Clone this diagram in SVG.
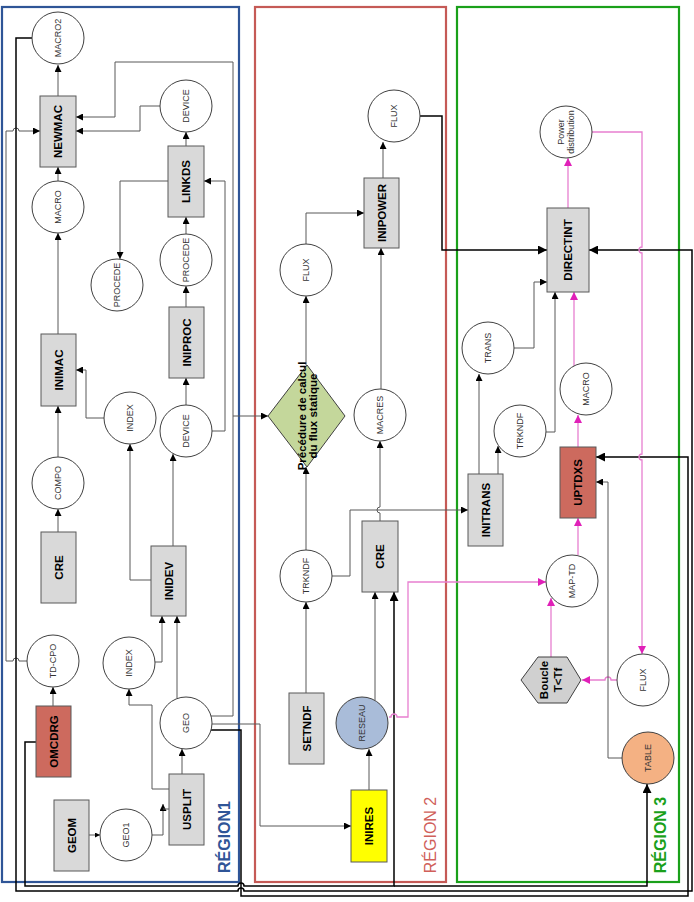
<svg xmlns="http://www.w3.org/2000/svg" width="694" height="902" viewBox="0 0 694 902">
<defs>
<marker id="a" viewBox="0 0 10 10" refX="10" refY="5" markerWidth="8" markerHeight="7" markerUnits="userSpaceOnUse" orient="auto"><path d="M0,0 L10,5 L0,10 z" fill="#000"/></marker>
<marker id="ab" viewBox="0 0 10 10" refX="10" refY="5" markerWidth="11" markerHeight="9" markerUnits="userSpaceOnUse" orient="auto"><path d="M0,0 L10,5 L0,10 z" fill="#000"/></marker>
<marker id="ap" viewBox="0 0 10 10" refX="10" refY="5" markerWidth="9" markerHeight="8" markerUnits="userSpaceOnUse" orient="auto"><path d="M0,0 L10,5 L0,10 z" fill="#e020b8"/></marker>
<marker id="as" viewBox="0 0 10 10" refX="10" refY="5" markerWidth="6" markerHeight="5" markerUnits="userSpaceOnUse" orient="auto"><path d="M0,0 L10,5 L0,10 z" fill="#000"/></marker>
</defs>
<style>
.reg{fill:none;stroke-width:2.2}
.box{fill:#d9d9d9;stroke:#595959;stroke-width:1}
.red{fill:#cd6a5e;stroke:#595959;stroke-width:1}
.cir{fill:#fff;stroke:#404040;stroke-width:1}
.bt{font-family:"Liberation Sans",Arial,sans-serif;font-weight:bold;font-size:11.5px;fill:#000;text-anchor:middle;dominant-baseline:central}
.ct{font-family:"Liberation Sans",Arial,sans-serif;font-size:9px;fill:#333;text-anchor:middle;dominant-baseline:central}
.rl{font-family:"Liberation Sans",Arial,sans-serif;font-size:16px;text-anchor:middle;dominant-baseline:central}
.c{fill:none;stroke:#595959;stroke-width:1;marker-end:url(#a)}
.cn{fill:none;stroke:#595959;stroke-width:1}
.k{fill:none;stroke:#000;stroke-width:1.5;marker-end:url(#ab)}
.kn{fill:none;stroke:#000;stroke-width:1.5}
.p{fill:none;stroke:#e77fd0;stroke-width:1.3;marker-end:url(#ap)}
</style>
<rect width="694" height="902" fill="#fff"/>
<g id="regions">
<rect class="reg" x="2" y="7" width="237" height="875" stroke="#2f5597"/>
<rect class="reg" x="255" y="7" width="191" height="875" stroke="#c55a56"/>
<rect class="reg" x="457" y="7" width="222" height="875" stroke="#1aa01a" stroke-width="2.6"/>
<text class="rl" transform="translate(224,837) rotate(-90)" fill="#2f5597" font-weight="bold">RÉGION1</text>
<text class="rl" transform="translate(430,835) rotate(-90)" fill="#d0605a">RÉGION 2</text>
<text class="rl" transform="translate(660,835) rotate(-90)" fill="#1aa01a" font-weight="bold">RÉGION 3</text>
</g>
<g id="connectors">
<path class="c" d="M58,181 V167"/>
<path class="c" d="M58,96 V65"/>
<path class="c" d="M58,334 V233"/>
<path class="c" d="M58,457 V406"/>
<path class="c" d="M58,532 V509"/>
<path class="c" d="M53,706 V687"/>
<path class="c" d="M27,661 H19 A3,3 0 0 0 13,661 H6 V131 H13 A3,3 0 0 1 19,131 H40"/>
<path class="kn" d="M32,38 H16 V891 H238 A3,3 0 0 1 244,891 H692 V250 H600"/>
<path class="k" d="M600,250 H589"/>
<path class="kn" d="M36,742 H25 V886 H238 A3,3 0 0 1 244,886 H394 V600"/>
<path class="k" d="M394,600 V592"/>
<path class="kn" d="M394,886 H647 V790"/>
<path class="k" d="M647,792 V784"/>
<path class="kn" d="M211,730 H241 V896 H688 V457 H605"/>
<path class="k" d="M605,457 H596"/>
<path class="c" d="M160,106 H140 V131 H76"/>
<path class="c" d="M211,716 H233 V62 H115 V117 H76"/>
<path class="c" d="M233,416 H268"/>
<path class="c" d="M212,431 H225 V181 H204"/>
<path class="c" d="M168,181 H120 V259"/>
<path class="c" d="M186,146 V132"/>
<path class="c" d="M186,234 V217"/>
<path class="c" d="M186,307 V286"/>
<path class="c" d="M186,405 V378"/>
<path class="c" d="M173,546 V454"/>
<path class="c" d="M151,580 H130 V444"/>
<path class="c" d="M104,418 H86 V370 H76"/>
<path class="c" d="M177,698 V616"/>
<path class="c" d="M155,662 H162 V616"/>
<path class="c" d="M169,789 H152 V705 H129 V689"/>
<path class="c" d="M182,774 V749"/>
<path class="c" d="M152,835 H163 V804"/>
<path class="cn" d="M163,809 H169"/>
<path class="cn" d="M89,835 H100" marker-end="url(#as)"/>
<path class="c" d="M212,724 H260 V826 H351"/>
<path class="c" d="M369,790 V749"/>
<path class="c" d="M375,700 V592"/>
<path class="c" d="M306,693 V602"/>
<path class="c" d="M306,550 V467"/>
<path class="c" d="M306,365 V296"/>
<path class="c" d="M306,244 V213 H364"/>
<path class="c" d="M380,521 V513 A3,3 0 0 1 380,507 V441"/>
<path class="c" d="M381,389 V248"/>
<path class="c" d="M383,178 V142"/>
<path class="k" d="M420,116 H442 V250 H547"/>
<path class="c" d="M332,576 H350 V510 H468"/>
<path class="p" d="M389,717 H391 A3,3 0 0 1 397,717 H408 V582 H546"/>
<path class="c" d="M479,474 V374"/>
<path class="c" d="M498,474 V446"/>
<path class="c" d="M514,348 H534 V282 H547"/>
<path class="c" d="M546,432 H555 V292"/>
<path class="p" d="M574,366 V292"/>
<path class="p" d="M578,447 V415"/>
<path class="p" d="M568,208 V158"/>
<path class="p" d="M592,132 H642 V247 A3,3 0 0 0 642,253 V454 A3,3 0 0 0 642,460 V654"/>
<path class="p" d="M578,555 V518"/>
<path class="p" d="M551,657 V598"/>
<path class="p" d="M617,680 H611 A3,3 0 0 0 605,680 H582"/>
<path class="c" d="M622,758 H608 V482 H596"/>
</g>
<g id="MACRO2"><circle class="cir" cx="58" cy="38" r="26"/><text class="ct" font-size="7.5" transform="translate(58,38) rotate(-90)">MACRO2</text></g>
<g id="NEWMAC"><rect class="box" x="40" y="96" width="36" height="71"/><text class="bt" transform="translate(58,131.5) rotate(-90)">NEWMAC</text></g>
<g id="DEVICE1"><circle class="cir" cx="186" cy="106" r="26"/><text class="ct" transform="translate(186,106) rotate(-90)">DEVICE</text></g>
<g id="LINKDS"><rect class="box" x="168" y="146" width="36" height="71"/><text class="bt" transform="translate(186,181.5) rotate(-90)">LINKDS</text></g>
<g id="MACRO"><circle class="cir" cx="58" cy="207" r="26"/><text class="ct" transform="translate(58,207) rotate(-90)">MACRO</text></g>
<g id="PROCEDE1"><circle class="cir" cx="117" cy="285" r="26"/><text class="ct" transform="translate(117,285) rotate(-90)">PROCEDE</text></g>
<g id="PROCEDE2"><circle class="cir" cx="186" cy="260" r="26"/><text class="ct" transform="translate(186,260) rotate(-90)">PROCEDE</text></g>
<g id="INIPROC"><rect class="box" x="169" y="307" width="35" height="71"/><text class="bt" transform="translate(186.5,342.5) rotate(-90)">INIPROC</text></g>
<g id="INIMAC"><rect class="box" x="41" y="334" width="35" height="72"/><text class="bt" transform="translate(58.5,370) rotate(-90)">INIMAC</text></g>
<g id="INDEX1"><circle class="cir" cx="130" cy="418" r="26"/><text class="ct" transform="translate(130,418) rotate(-90)">INDEX</text></g>
<g id="DEVICE2"><circle class="cir" cx="186" cy="431" r="26"/><text class="ct" transform="translate(186,431) rotate(-90)">DEVICE</text></g>
<g id="COMPO"><circle class="cir" cx="58" cy="483" r="26"/><text class="ct" transform="translate(58,483) rotate(-90)">COMPO</text></g>
<g id="CRE1"><rect class="box" x="41" y="532" width="35" height="71"/><text class="bt" transform="translate(58.5,567.5) rotate(-90)">CRE</text></g>
<g id="INIDEV"><rect class="box" x="151" y="546" width="35" height="70"/><text class="bt" transform="translate(168.5,581) rotate(-90)">INIDEV</text></g>
<g id="TD-CPO"><circle class="cir" cx="53" cy="661" r="26"/><text class="ct" transform="translate(53,661) rotate(-90)">TD-CPO</text></g>
<g id="INDEX2"><circle class="cir" cx="129" cy="663" r="26"/><text class="ct" transform="translate(129,663) rotate(-90)">INDEX</text></g>
<g id="OMCDRG"><rect class="red" x="36" y="706" width="35" height="71"/><text class="bt" transform="translate(53.5,741.5) rotate(-90)">OMCDRG</text></g>
<g id="GEO"><circle class="cir" cx="186" cy="723" r="26"/><text class="ct" transform="translate(186,723) rotate(-90)">GEO</text></g>
<g id="USPLIT"><rect class="box" x="169" y="774" width="35" height="71"/><text class="bt" transform="translate(186.5,809.5) rotate(-90)">USPLIT</text></g>
<g id="GEOM"><rect class="box" x="54" y="800" width="35" height="71"/><text class="bt" transform="translate(71.5,835.5) rotate(-90)">GEOM</text></g>
<g id="GEO1"><circle class="cir" cx="126" cy="835" r="26"/><text class="ct" transform="translate(126,835) rotate(-90)">GEO1</text></g>
<g id="FLUX1"><circle class="cir" cx="394" cy="116" r="26"/><text class="ct" transform="translate(394,116) rotate(-90)">FLUX</text></g>
<g id="INIPOWER"><rect class="box" x="364" y="178" width="35" height="70"/><text class="bt" transform="translate(381.5,213) rotate(-90)">INIPOWER</text></g>
<g id="FLUX2"><circle class="cir" cx="306" cy="270" r="26"/><text class="ct" transform="translate(306,270) rotate(-90)">FLUX</text></g>
<g id="PROC"><polygon points="307,365 345,416 307,467 268,416" fill="#c4d79b" stroke="#404040" stroke-width="1"/><text class="bt" font-size="8.5" transform="translate(307,416) rotate(-90)"><tspan x="0" dy="-5">Précédure de calcul</tspan><tspan x="0" dy="11">du flux statique</tspan></text></g>
<g id="MACRES"><circle class="cir" cx="380" cy="415" r="26"/><text class="ct" transform="translate(380,415) rotate(-90)">MACRES</text></g>
<g id="TRKNDF1"><circle class="cir" cx="306" cy="576" r="26"/><text class="ct" transform="translate(306,576) rotate(-90)">TRKNDF</text></g>
<g id="CRE2"><rect class="box" x="362" y="521" width="36" height="71"/><text class="bt" transform="translate(380,556.5) rotate(-90)">CRE</text></g>
<g id="SETNDF"><rect class="box" x="289" y="693" width="35" height="71"/><text class="bt" transform="translate(306.5,728.5) rotate(-90)">SETNDF</text></g>
<g id="RESEAU"><circle cx="362" cy="723" r="26" fill="#a9bcd9" stroke="#404040" stroke-width="1"/><text class="ct" transform="translate(362,723) rotate(-90)">RESEAU</text></g>
<g id="INIRES"><rect x="351" y="790" width="36" height="72" fill="#ffff00" stroke="#595959" stroke-width="1"/><text class="bt" transform="translate(369,826) rotate(-90)">INIRES</text></g>
<g id="POWER"><circle class="cir" cx="566" cy="132" r="26"/><text class="ct" font-size="8" transform="translate(566,132) rotate(-90)"><tspan x="0" dy="-5">Power</tspan><tspan x="0" dy="10">distribution</tspan></text></g>
<g id="DIRECTINT"><rect class="box" x="547" y="208" width="42" height="84"/><text class="bt" transform="translate(568,250) rotate(-90)">DIRECTINT</text></g>
<g id="TRANS"><circle class="cir" cx="488" cy="348" r="26"/><text class="ct" transform="translate(488,348) rotate(-90)">TRANS</text></g>
<g id="MACRO3"><circle class="cir" cx="586" cy="389" r="26"/><text class="ct" transform="translate(586,389) rotate(-90)">MACRO</text></g>
<g id="TRKNDF2"><circle class="cir" cx="520" cy="431" r="26"/><text class="ct" transform="translate(520,431) rotate(-90)">TRKNDF</text></g>
<g id="UPTDXS"><rect class="red" x="560" y="447" width="36" height="71"/><text class="bt" transform="translate(578,482.5) rotate(-90)">UPTDXS</text></g>
<g id="INITRANS"><rect class="box" x="468" y="474" width="35" height="72"/><text class="bt" transform="translate(485.5,510) rotate(-90)">INITRANS</text></g>
<g id="MAP-TD"><circle class="cir" cx="572" cy="581" r="26"/><text class="ct" transform="translate(572,581) rotate(-90)">MAP-TD</text></g>
<g id="BOUCLE"><polygon points="538,657 567,657 581,680 567,703 538,703 521,680" fill="#d0d0d0" stroke="#404040" stroke-width="1"/><text class="bt" transform="translate(551,680) rotate(-90)"><tspan x="0" dy="-7">Boucle</tspan><tspan x="0" dy="14">T&lt;Tf</tspan></text></g>
<g id="FLUX3"><circle class="cir" cx="643" cy="680" r="26"/><text class="ct" transform="translate(643,680) rotate(-90)">FLUX</text></g>
<g id="TABLE"><circle cx="648" cy="758" r="26" fill="#f4b183" stroke="#404040" stroke-width="1"/><text class="ct" transform="translate(648,758) rotate(-90)">TABLE</text></g>
</svg>
